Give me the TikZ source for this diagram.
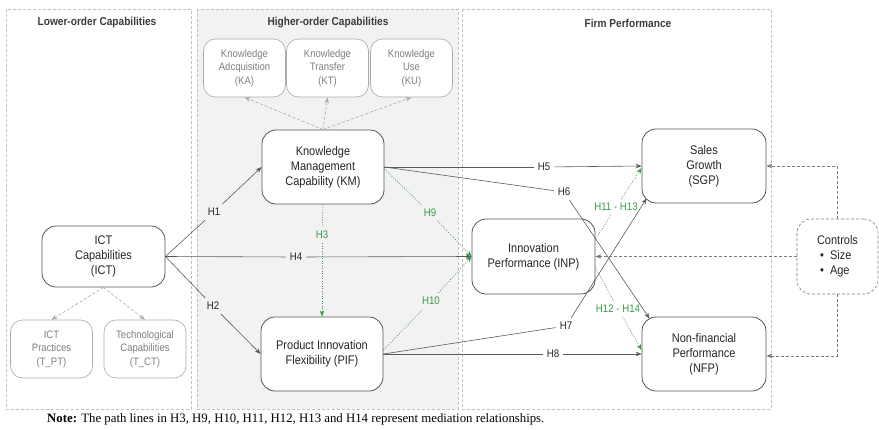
\documentclass[tikz,border=0pt]{standalone}
\usepackage{fontspec}
\setmainfont{Liberation Serif}
\newfontfamily\figfont[FakeStretch=0.88]{Liberation Sans}
\usetikzlibrary{arrows.meta}

\definecolor{nodegray}{HTML}{555555}
\definecolor{textgray}{HTML}{262626}
\definecolor{subgray}{HTML}{AAAAAA}
\definecolor{subtext}{HTML}{7F7F7F}
\definecolor{panelline}{HTML}{C2C2C2}
\definecolor{panelfill}{HTML}{F2F2F2}
\definecolor{linegray}{HTML}{5A5A5A}
\definecolor{medgreen}{HTML}{3A9A48}

\tikzset{
  mainbox/.style={draw=nodegray, line width=0.8pt, rounded corners=14pt, fill=white,
    align=center, text=textgray, font=\figfont\fontsize{12.5}{15}\selectfont},
  subbox/.style={draw=subgray, line width=0.6pt, rounded corners=12pt, fill=white,
    align=center, text=subtext, font=\figfont\fontsize{10.8}{13.5}\selectfont},
  panel/.style={draw=panelline, dash pattern=on 3pt off 2pt, line width=0.6pt},
  paneltitle/.style={text=textgray!90, font=\figfont\bfseries\fontsize{11.5}{14}\selectfont},
  hlabel/.style={text=textgray, font=\figfont\fontsize{11}{12}\selectfont, inner sep=4pt},
  glabel/.style={hlabel, text=medgreen},
  path/.style={draw=linegray, line width=0.6pt, -{Stealth[length=6pt,width=4.5pt]}},
  flat/.style={draw=linegray, line width=0.6pt},
  medpath/.style={draw=medgreen, line width=0.6pt, dash pattern=on 1pt off 1.5pt, -{Stealth[length=6pt,width=4.5pt]}},
  medflat/.style={draw=medgreen, line width=0.6pt, dash pattern=on 1pt off 1.5pt},
  dimpath/.style={draw=subgray, line width=0.6pt, dash pattern=on 3pt off 2pt, -{Stealth[length=6pt,width=4.5pt]}},
  ctrlpath/.style={draw=linegray!80, line width=0.6pt, dash pattern=on 3pt off 2pt, -{Stealth[length=6pt,width=4.5pt]}}
}

\begin{document}
\begin{tikzpicture}[x=1pt,y=-1pt]
  \useasboundingbox (0,0) rectangle (879,429);

  % panels
  \draw[panel] (6,9) rectangle (191,409);
  \draw[panel, fill=panelfill] (197,9) rectangle (458,409);
  \draw[panel] (462,9) rectangle (771,409);
  \node[paneltitle] (lowtitle) at (97,23) {Lower-order Capabilities};
  \node[paneltitle] (hightitle) at (328,23) {Higher-order Capabilities};
  \node[paneltitle] (firmtitle) at (628,23) {Firm Performance};

  % constructs
  \def \MainNodes{
    ICT/103.5/256.5/123/61/{ICT\\Capabilities\\(ICT)},
    KM/323/167/122/74/{Knowledge\\Management\\Capability (KM)},
    PIF/322/354/122/74/{Product Innovation\\Flexibility (PIF)},
    INP/533.5/256.5/123/75/{Innovation\\Performance (INP)},
    SGP/704/166/124/74/{Sales\\Growth\\(SGP)},
    NFP/704/354/124/74/{Non-financial\\Performance\\(NFP)}}
  \def \SubNodes{
    KA/244.5/68/{Knowledge\\Adcquisition\\(KA)},
    KT/327.5/68/{Knowledge\\Transfer\\(KT)},
    KU/411.5/68/{Knowledge\\Use\\(KU)},
    TPT/51.5/349/{ICT\\Practices\\(T\_PT)},
    TCT/145/349/{Technological\\Capabilities\\(T\_CT)}}
  \foreach \id / \x / \y / \w / \h / \txt in \MainNodes{
    \node[mainbox, minimum width=\w, minimum height=\h] (\id) at (\x, \y) {\txt};
  }
  \foreach \id / \x / \y / \txt in \SubNodes{
    \node[subbox, minimum width=82, minimum height=58] (\id) at (\x, \y) {\txt};
  }
  \node[draw=linegray!80, dash pattern=on 3pt off 2pt, line width=0.6pt, rounded corners=14pt,
    minimum width=81, minimum height=75, align=left, text=textgray,
    font=\figfont\fontsize{12.5}{15}\selectfont] (CTRL) at (837.5,256.5)
    {Controls\\\ \textbullet\ \ Size\\\ \textbullet\ \ Age};

  % hypothesis labels
  \def \Labels{
    h1/214/212/H1, h2/213/306/H2, h4/296/257/H4, h5/544/167/H5,
    h6/564/192/H6, h7/566/326/H7, h8/553/354/H8}
  \def \GreenLabels{
    h3/322/235/H3, h9/430/213/H9, h10/431/301/H10,
    h11/616/207/H11 - H13, h12/618/309/H12 - H14}
  \foreach \id / \x / \y / \txt in \Labels{
    \node[hlabel] (\id) at (\x, \y) {\txt};
  }
  \foreach \id / \x / \y / \txt in \GreenLabels{
    \node[glabel] (\id) at (\x, \y) {\txt};
  }

  % dimensions
  \foreach \x / \y in {KM/KA, KM/KT, KM/KU}{
    \path[dimpath] (\x.north) -- (\y.south);
  }
  \foreach \x / \y in {ICT/TPT, ICT/TCT}{
    \path[dimpath] (\x.south) -- (\y.north);
  }

  % direct paths
  \foreach \x / \h / \y in {ICT.east/h1/KM.west, ICT.east/h2/PIF.west, ICT.east/h4/INP.west,
      KM.east/h5/SGP.west, PIF.east/h8/NFP.west}{
    \path[flat] (\x) -- (\h);
    \path[path] (\h) -- (\y);
  }
  \path[flat] (KM.east) -- (h6);
  \path[path] (h6) -- ([xshift=8pt,yshift=-2pt]NFP.north west);
  \path[flat] (PIF.east) -- (h7);
  \path[path] (h7) -- ([xshift=5pt,yshift=5pt]SGP.south west);

  % mediation paths
  \path[medflat] (KM.south) -- (h3);
  \path[medpath] (h3) -- (PIF.north);
  \path[medflat] ([yshift=-2pt]KM.east) -- (h9);
  \path[medpath] (h9) -- (INP.west);
  \path[medflat] ([yshift=4pt]PIF.east) -- (h10);
  \path[medpath] (h10) -- (INP.west);
  \path[medflat] ([yshift=17pt]INP.east) -- (h11);
  \path[medpath] (h11) -- ([yshift=-2pt]SGP.west);
  \path[medflat] ([yshift=-11pt]INP.east) -- (h12);
  \path[medpath] (h12) -- ([yshift=4pt]NFP.west);

  % controls
  \path[ctrlpath] (CTRL.north) |- (SGP.east);
  \path[ctrlpath] (CTRL.west) -- (INP.east);
  \path[ctrlpath] (CTRL.south) |- ([yshift=-2pt]NFP.east);

  \node[anchor=west, text=black, font=\fontsize{12.8}{14}\selectfont, inner sep=0pt] (note) at (47,419)
    {\textbf{Note:} The path lines in H3, H9, H10, H11, H12, H13 and H14 represent mediation relationships.};
\end{tikzpicture}
\end{document}
